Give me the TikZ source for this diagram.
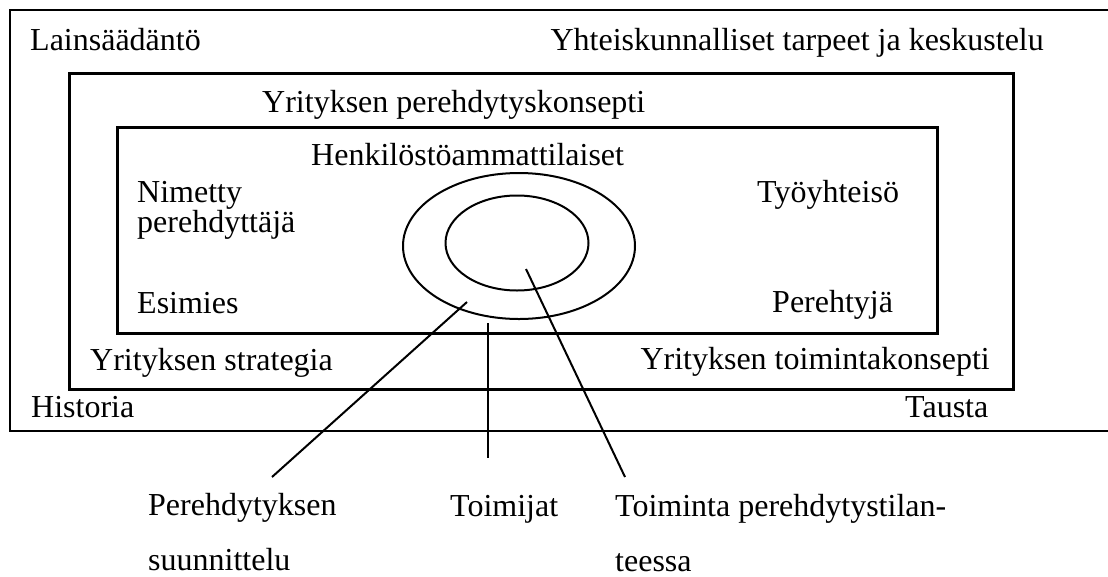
\documentclass[tikz,border=0pt]{standalone}
\usepackage{fontspec}
\setmainfont{Liberation Serif}
\usetikzlibrary{shapes.geometric}
\begin{document}
\begin{tikzpicture}[x=1pt,y=-1pt,
  lbl/.style={anchor=base west,inner sep=0pt,font=\fontsize{32}{38}\selectfont},
  lblr/.style={anchor=base east,inner sep=0pt,font=\fontsize{32}{38}\selectfont},
  frame/.style={line width=2.8pt},
  ell/.style={draw,ellipse,line width=2pt,inner sep=0pt},
  conn/.style={line width=2pt}]
\useasboundingbox (0,0) rectangle (1108,576);
% outer frame (right side open, beyond the picture edge)
\draw[frame] (1108,10) -- (10,10) -- (10,431) -- (1108,431);
% middle and inner frames
\node[draw,frame,inner sep=0pt,minimum width=944pt,minimum height=316pt,anchor=north west] (mid) at (68,72) {};
\node[draw,frame,inner sep=0pt,minimum width=820pt,minimum height=206pt,anchor=north west] (inn) at (116,126) {};
% ellipses
\node[ell,minimum width=232pt,minimum height=146pt] (eout) at (519,246) {};
\node[ell,minimum width=143pt,minimum height=95pt] (ein) at (517,243) {};
% texts
\node[lbl] (t1) at (30,50) {Lainsäädäntö};
\node[lblr] (t2) at (1044,50) {Yhteiskunnalliset tarpeet ja keskustelu};
\node[lbl] (t3) at (262,112) {Yrityksen perehdytyskonsepti};
\node[lbl] (t4) at (311,165) {Henkilöstöammattilaiset};
\node[lbl] (t5) at (137,202) {Nimetty};
\node[lbl] (t6) at (137,232) {perehdyttäjä};
\node[lbl] (t7) at (757,202) {Työyhteisö};
\node[lbl] (t8) at (137,313) {Esimies};
\node[lbl] (t9) at (772,312) {Perehtyjä};
\node[lbl] (t10) at (90,370) {Yrityksen strategia};
\node[lblr] (t11) at (990,369) {Yrityksen toimintakonsepti};
\node[lbl] (t12) at (31,417) {Historia};
\node[lbl] (t13) at (905,417) {Tausta};
\node[lbl] (t14) at (148,515) {Perehdytyksen};
\node[lbl] (t15) at (148,570) {suunnittelu};
\node[lbl] (t16) at (450,516) {Toimijat};
\node[lbl] (t17) at (615,516) {Toiminta perehdytystilan-};
\node[lbl] (t18) at (615,571) {teessa};
% connectors
\coordinate (c1a) at (467,302);
\coordinate (c1b) at (272,477);
\coordinate (c2a) at (488,323);
\coordinate (c2b) at (488,458);
\coordinate (c3a) at (526,269);
\coordinate (c3b) at (625,477);
\draw[conn] (c1a) -- (c1b);
\draw[conn] (c2a) -- (c2b);
\draw[conn] (c3a) -- (c3b);
\end{tikzpicture}
\end{document}
